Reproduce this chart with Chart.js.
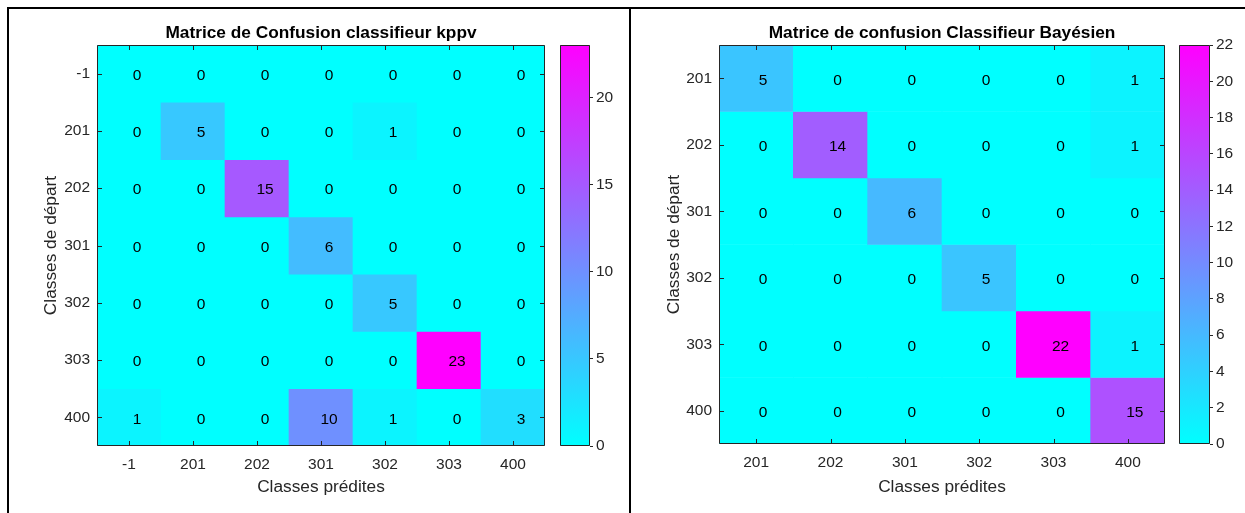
<!DOCTYPE html>
<html><head><meta charset="utf-8">
<script src="https://cdn.jsdelivr.net/npm/chart.js@4.4.0/dist/chart.umd.min.js"></script>
<style>
html,body{margin:0;padding:0;background:#fff;width:1245px;height:513px;overflow:hidden;}
canvas{position:absolute;}
.ln{position:absolute;background:#000;}
</style></head><body>
<div class="ln" style="left:7px;top:7px;width:1238px;height:2px"></div>
<div class="ln" style="left:7px;top:7px;width:2px;height:506px"></div>
<div class="ln" style="left:629px;top:7px;width:2px;height:506px"></div>
<canvas id="hmA" width="560" height="513" style="left:0;top:0"></canvas>
<canvas id="cbA" width="85" height="513" style="left:545px;top:0"></canvas>
<canvas id="hmB" width="550" height="513" style="left:630px;top:0"></canvas>
<canvas id="cbB" width="80" height="513" style="left:1165px;top:0"></canvas>
<script>
// ---- data ----
const knnClasses = ['-1', '201', '202', '301', '302', '303', '400'];
const knnCounts = [
  [0, 0, 0, 0, 0, 0, 0],
  [0, 5, 0, 0, 1, 0, 0],
  [0, 0, 15, 0, 0, 0, 0],
  [0, 0, 0, 6, 0, 0, 0],
  [0, 0, 0, 0, 5, 0, 0],
  [0, 0, 0, 0, 0, 23, 0],
  [1, 0, 0, 10, 1, 0, 3]
];
const knnColorbarMax = 23;
const knnColorbarStep = 5;

const bayesClasses = ['201', '202', '301', '302', '303', '400'];
const bayesCounts = [
  [5, 0, 0, 0, 0, 1],
  [0, 14, 0, 0, 0, 1],
  [0, 0, 6, 0, 0, 0],
  [0, 0, 0, 5, 0, 0],
  [0, 0, 0, 0, 22, 1],
  [0, 0, 0, 0, 0, 15]
];
const bayesColorbarMax = 22;
const bayesColorbarStep = 2;

const titleKnn = 'Matrice de Confusion classifieur kppv';
const titleBayes = 'Matrice de confusion Classifieur Bayésien';
const xAxisTitle = 'Classes prédites';
const yAxisTitle = 'Classes de départ';

// ---- styling ----
const FAMILY = '"Liberation Sans", Arial, sans-serif';
const AXIS = '#262626';
const TICK_SIZE = 15.5;
const LABEL_SIZE = 17.3;

function cool(t) {
  t = Math.max(0, Math.min(1, t));
  return 'rgb(' + Math.round(255 * t) + ',' + Math.round(255 * (1 - t)) + ',255)';
}

function framePlugin(withTicks) {
  return {
    id: withTicks ? 'frameTicks' : 'frameOnly',
    afterDraw(chart) {
      const { ctx, chartArea } = chart;
      const { left, right, top, bottom } = chartArea;
      ctx.save();
      ctx.strokeStyle = AXIS;
      ctx.lineWidth = 1;
      if (withTicks) {
        const xs = chart.scales.x, ys = chart.scales.y;
        ctx.beginPath();
        xs.ticks.forEach((t, i) => {
          const px = Math.round(xs.getPixelForTick(i)) + 0.5;
          ctx.moveTo(px, bottom); ctx.lineTo(px, bottom - 5);
          ctx.moveTo(px, top); ctx.lineTo(px, top + 5);
        });
        ys.ticks.forEach((t, i) => {
          const py = Math.round(ys.getPixelForTick(i)) + 0.5;
          ctx.moveTo(left, py); ctx.lineTo(left + 5, py);
          ctx.moveTo(right, py); ctx.lineTo(right - 5, py);
        });
        ctx.stroke();
      }
      ctx.beginPath();
      ctx.rect(Math.round(left) + 0.5, Math.round(top) + 0.5,
               Math.round(right - left) - 1, Math.round(bottom - top) - 1);
      ctx.stroke();
      ctx.restore();
    }
  };
}

function makeHeatmap(id, classes, counts, maxVal, titleText, g) {
  const n = classes.length;
  const datasets = counts.map((row, i) => ({
    data: row.map(() => [i - 0.5, i + 0.5]),
    backgroundColor: row.map(v => cool(v / maxVal)),
    borderWidth: 0,
    barPercentage: 1,
    categoryPercentage: 1,
    grouped: false
  }));
  const cellText = {
    id: 'cellText',
    afterDatasetsDraw(chart) {
      const ctx = chart.ctx;
      ctx.save();
      ctx.font = TICK_SIZE + 'px ' + FAMILY;
      ctx.fillStyle = '#000';
      ctx.textAlign = 'center';
      ctx.textBaseline = 'middle';
      chart.data.datasets.forEach((ds, i) => {
        chart.getDatasetMeta(i).data.forEach((el, j) => {
          ctx.fillText(String(counts[i][j]), el.x + g.dx, (el.y + el.base) / 2 + g.dy);
        });
      });
      ctx.restore();
    }
  };
  const lh = LABEL_SIZE * 1.2;
  return new Chart(document.getElementById(id), {
    type: 'bar',
    data: { labels: classes, datasets },
    options: {
      responsive: false,
      animation: false,
      devicePixelRatio: 1,
      layout: { padding: { left: g.padLeft, right: g.padRight, top: 0, bottom: 0 } },
      plugins: {
        legend: { display: false },
        tooltip: { enabled: false },
        title: {
          display: true, text: titleText, fullSize: false, color: '#000',
          font: { family: FAMILY, size: LABEL_SIZE, weight: 'bold', lineHeight: 1.2 },
          padding: { top: 23, bottom: g.top - 23 - lh }
        }
      },
      scales: {
        x: {
          grid: { display: false, drawTicks: false },
          border: { display: false },
          ticks: { font: { family: FAMILY, size: TICK_SIZE }, color: AXIS, padding: 9, autoSkip: false, maxRotation: 0 },
          title: { display: true, text: xAxisTitle, color: AXIS,
                   font: { family: FAMILY, size: LABEL_SIZE, lineHeight: 1.2 },
                   padding: { top: 0, bottom: 15 } },
          afterFit(s) { s.height = g.xHeight; }
        },
        y: {
          min: -0.5, max: n - 0.5, reverse: true,
          grid: { display: false, drawTicks: false },
          border: { display: false },
          afterBuildTicks(s) { s.ticks = classes.map((c, i) => ({ value: i })); },
          ticks: { callback: v => classes[v], font: { family: FAMILY, size: TICK_SIZE }, color: AXIS, padding: 7, autoSkip: false },
          title: { display: true, text: yAxisTitle, color: AXIS,
                   font: { family: FAMILY, size: LABEL_SIZE, lineHeight: 1.2 },
                   padding: { top: 4, bottom: 4 } },
          afterFit(s) { s.width = g.yWidth; }
        }
      }
    },
    plugins: [cellText, framePlugin(true)]
  });
}

function makeColorbar(id, maxVal, step, g) {
  return new Chart(document.getElementById(id), {
    type: 'bar',
    data: {
      labels: [''],
      datasets: [{
        data: [[0, maxVal]],
        backgroundColor: (c) => {
          const a = c.chart.chartArea;
          if (!a) return cool(0);
          const grad = c.chart.ctx.createLinearGradient(0, a.bottom, 0, a.top);
          grad.addColorStop(0, cool(0));
          grad.addColorStop(1, cool(1));
          return grad;
        },
        borderWidth: 0, barPercentage: 1, categoryPercentage: 1
      }]
    },
    options: {
      responsive: false,
      animation: false,
      devicePixelRatio: 1,
      layout: { padding: { left: g.padLeft, right: 0, top: g.top, bottom: g.padBottom } },
      plugins: { legend: { display: false }, tooltip: { enabled: false } },
      scales: {
        x: { display: false },
        y: {
          position: 'right', min: 0, max: maxVal,
          grid: { drawOnChartArea: false, drawTicks: true, tickLength: 3, color: AXIS },
          border: { display: false },
          ticks: { stepSize: step, includeBounds: false, font: { family: FAMILY, size: TICK_SIZE }, color: AXIS, padding: 3 },
          afterFit(s) { s.width = g.yWidth; }
        }
      }
    },
    plugins: [framePlugin(false)]
  });
}

makeHeatmap('hmA', knnClasses, knnCounts, knnColorbarMax, titleKnn,
  { padLeft: 37, yWidth: 60, padRight: 15, top: 45, xHeight: 67, dx: 8, dy: 2 });
makeColorbar('cbA', knnColorbarMax, knnColorbarStep,
  { padLeft: 15, yWidth: 40, top: 45, padBottom: 67 });
makeHeatmap('hmB', bayesClasses, bayesCounts, bayesColorbarMax, titleBayes,
  { padLeft: 30, yWidth: 59, padRight: 15, top: 45, xHeight: 69, dx: 7, dy: 2 });
makeColorbar('cbB', bayesColorbarMax, bayesColorbarStep,
  { padLeft: 14, yWidth: 35, top: 45, padBottom: 69 });
</script>
</body></html>
